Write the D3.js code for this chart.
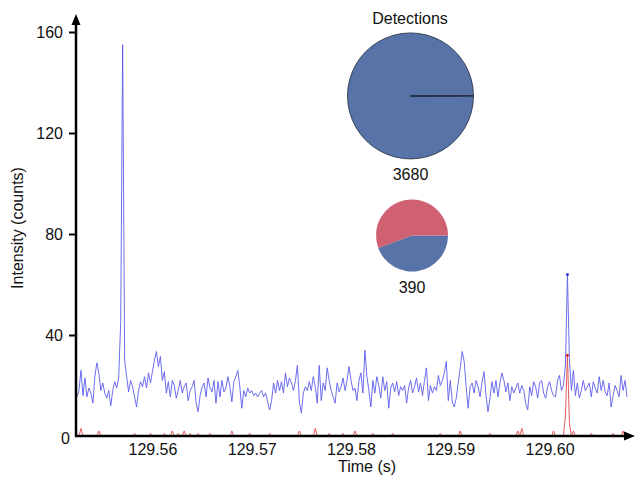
<!DOCTYPE html>
<html>
<head>
<meta charset="utf-8">
<script src="https://cdn.jsdelivr.net/npm/d3@7"></script>
<style>
    body { margin: 0; background: #fff; }
    svg { display: block; font-family: "Liberation Sans", Arial, sans-serif; }
</style>
</head>
<body>
<svg id="chart" width="635" height="479"></svg>
<script>
// data
// sampling of the traces (s)
var t0 = 129.5524;
var dt = 0.0002;

// blue channel intensity (counts), one value per sample
var blueCounts = [
    15.6, 18, 26, 16, 23, 15.5, 19, 17, 13, 23.5, 29, 25, 18, 21, 17, 15, 18, 12, 18, 21.5,
    19, 23, 45, 155, 30, 23.5, 17.5, 22, 19.5, 15.5, 11.5, 18, 21.5, 19.5, 23.5, 19, 25, 21, 25.5, 30,
    33.5, 27.5, 31.5, 22, 25.5, 17, 21.5, 15.5, 22, 20, 15, 18, 22, 17, 19.5, 21, 14, 18, 19.5, 22,
    13, 9.6, 16, 19.5, 21, 15.5, 23, 19, 17.5, 22, 13, 21.5, 15.5, 22, 17.5, 19, 23.5, 19.5, 13.5, 21.5,
    23.5, 26, 19.5, 11, 18, 15.5, 19, 17, 18, 16, 17, 15.5, 17, 18, 15.5, 17, 13.5, 10.3, 14, 21,
    17, 22, 18, 21.5, 17, 25, 19.5, 23, 21, 18, 22, 28, 13.5, 9, 17, 19.5, 18, 21.5, 18, 23.5,
    19.5, 13, 28, 14, 21, 18, 27, 22, 18, 15.5, 13, 21, 17.5, 19.5, 23, 18, 22, 27.5, 22, 18,
    19, 14, 22, 25, 17, 34, 23.5, 18, 11.5, 22, 17, 23.5, 20, 15, 23.5, 18, 21.5, 11, 19, 21,
    17.5, 21.5, 16, 19.5, 18, 20, 13, 19, 22, 17, 19.5, 23, 17.5, 21, 16, 22, 27, 14, 20, 17,
    19.5, 18, 24, 20, 22, 25, 29.5, 14, 22, 13.5, 11.5, 15, 21, 27, 33.5, 29.5, 19.5, 11, 19.5, 21,
    17, 22, 19.5, 15.5, 21.5, 25.5, 16, 9.6, 15, 21.5, 17, 22, 15.5, 21, 25, 22, 17.5, 21, 14, 19.5,
    17, 19, 21, 17, 20, 18, 13, 10.3, 19.5, 16, 21.5, 19.5, 15, 21, 22, 17, 15, 19.5, 21.5, 18,
    16, 15.5, 22, 24, 18, 20, 28, 64, 30, 18, 26, 16, 21, 15, 18, 22, 18, 19.5, 21, 15.5,
    21.5, 19, 17, 23.5, 18, 22, 17.5, 16, 21, 11.5, 16, 20, 18, 15.5, 24, 18, 22, 15.5
];

// red channel: counts are zero except at these samples
var redSpikeIndex = [2, 11, 29, 37, 44, 48, 51, 54, 57, 61, 67, 78, 87, 97, 112, 120, 127, 134, 140, 149,
    159, 183, 193, 208, 222, 224, 240, 246, 247, 248, 250, 259, 270, 275];
var redSpikeCounts = [3, 2, 1, 1, 1, 2, 1, 2, 1, 1, 1, 2, 1, 1, 2, 3, 1, 1, 2, 1,
    1, 1, 2, 1, 2, 3, 2, 8, 32, 5, 2, 1, 1, 2];

// peak markers (sample index)
var markedPeak = 247;

// tick labels
var xTicks = [129.56, 129.57, 129.58, 129.59, 129.60];
var yTicks = [0, 40, 80, 120, 160];

// detections pies
var pieTotals = [3680, 390];
var pieBlue = [3676, 173];
var pieRed = [4, 217];
// END data

var svg = d3.select('#chart');
var font = '"Liberation Sans", Arial, sans-serif';

var x = d3.scaleLinear().domain([129.5523, 129.6079]).range([76, 628]);
var y = d3.scaleLinear().domain([0, 160]).range([436, 32]);

var blueSeries = blueCounts.map(function(v, i){
    return { t: t0 + dt * i, v: v };
});
var redValues = blueCounts.map(function(){ return 0; });
redSpikeIndex.forEach(function(idx, k){
    redValues[idx] = redSpikeCounts[k];
});
var redSeries = redValues.map(function(v, i){
    return { t: t0 + dt * i, v: v };
});

var line = d3.line()
    .x(function(d){ return x(d.t); })
    .y(function(d){ return y(d.v); });

// traces
svg.append('path')
    .datum(redSeries)
    .attr('fill', 'none')
    .attr('stroke', '#e35b5b')
    .attr('stroke-width', 1)
    .attr('d', line);

svg.append('path')
    .datum(blueSeries)
    .attr('fill', 'none')
    .attr('stroke', '#5d5ded')
    .attr('stroke-opacity', 0.9)
    .attr('stroke-width', 1)
    .attr('d', line);

svg.append('circle')
    .attr('cx', x(blueSeries[markedPeak].t))
    .attr('cy', y(blueSeries[markedPeak].v))
    .attr('r', 1.5)
    .attr('fill', '#3b3bd8');
svg.append('circle')
    .attr('cx', x(redSeries[markedPeak].t))
    .attr('cy', y(redSeries[markedPeak].v))
    .attr('r', 1.5)
    .attr('fill', '#d22');
// END traces

// axes
var yAxis = d3.axisLeft(y)
    .tickValues(yTicks)
    .tickSize(7)
    .tickSizeOuter(0)
    .tickPadding(6);

var gy = svg.append('g')
    .attr('transform', 'translate(76,0)')
    .call(yAxis);
gy.select('.domain').remove();
gy.selectAll('.tick line').attr('stroke', '#000').attr('stroke-width', 2);
gy.selectAll('.tick text')
    .attr('font-size', 16)
    .attr('font-family', font)
    .attr('fill', '#111');
// zero sits in the corner, no tick mark
gy.selectAll('.tick').filter(function(d){ return d === 0; })
    .each(function(){
        d3.select(this).select('line').remove();
        d3.select(this).select('text').attr('x', -6).attr('dy', '0.45em');
    });

var xAxis = d3.axisBottom(x)
    .tickValues(xTicks)
    .tickSize(0)
    .tickPadding(8)
    .tickFormat(d3.format('.2f'));

var gx = svg.append('g')
    .attr('transform', 'translate(0,436)')
    .call(xAxis);
gx.select('.domain').remove();
gx.selectAll('.tick text')
    .attr('font-size', 16)
    .attr('font-family', font)
    .attr('fill', '#111');

// axis lines with arrow heads
svg.append('line')
    .attr('x1', 76).attr('y1', 437)
    .attr('x2', 76).attr('y2', 22)
    .attr('stroke', '#000').attr('stroke-width', 2.5);
svg.append('path')
    .attr('d', 'M76,14 L80.5,25 L71.5,25 Z')
    .attr('fill', '#000');

svg.append('line')
    .attr('x1', 75).attr('y1', 436)
    .attr('x2', 627).attr('y2', 436)
    .attr('stroke', '#000').attr('stroke-width', 2.5);
svg.append('path')
    .attr('d', 'M635,436 L624,431.5 L624,440.5 Z')
    .attr('fill', '#000');

svg.append('text')
    .attr('x', 367)
    .attr('y', 472)
    .attr('text-anchor', 'middle')
    .attr('font-size', 16)
    .attr('font-family', font)
    .attr('fill', '#111')
    .text('Time (s)');

svg.append('text')
    .attr('transform', 'translate(23,228) rotate(-90)')
    .attr('text-anchor', 'middle')
    .attr('font-size', 16)
    .attr('font-family', font)
    .attr('fill', '#111')
    .text('Intensity (counts)');
// END axes

// detections pies
var pieCenters = [[410.5, 96], [412, 235.5]];
var radius = d3.scaleLinear().domain([390, 3680]).range([36, 63]);

var pie = d3.pie()
    .sort(null)
    .value(function(d){ return d.v; })
    .startAngle(Math.PI / 2)
    .endAngle(Math.PI / 2 + 2 * Math.PI);

svg.append('text')
    .attr('x', 410)
    .attr('y', 24)
    .attr('text-anchor', 'middle')
    .attr('font-size', 16)
    .attr('font-family', font)
    .attr('fill', '#111')
    .text('Detections');

pieTotals.forEach(function(total, k){
    var r = radius(total);
    var arc = d3.arc().innerRadius(0).outerRadius(r);
    var g = svg.append('g')
        .attr('transform', 'translate(' + pieCenters[k][0] + ',' + pieCenters[k][1] + ')');
    var slices = [
        { v: pieBlue[k], color: '#5773a8' },
        { v: pieRed[k], color: '#d06172' }
    ];
    g.selectAll('path')
        .data(pie(slices))
        .enter()
        .append('path')
        .attr('d', arc)
        .attr('fill', function(d){ return d.data.color; })
        .attr('stroke', k === 0 ? '#1e2a3c' : 'none')
        .attr('stroke-width', 0.8);

    svg.append('text')
        .attr('x', pieCenters[k][0])
        .attr('y', pieCenters[k][1] + r + 21)
        .attr('text-anchor', 'middle')
        .attr('font-size', 16)
        .attr('font-family', font)
        .attr('fill', '#111')
        .text(total);
});
// END detections pies
</script>
</body>
</html>
